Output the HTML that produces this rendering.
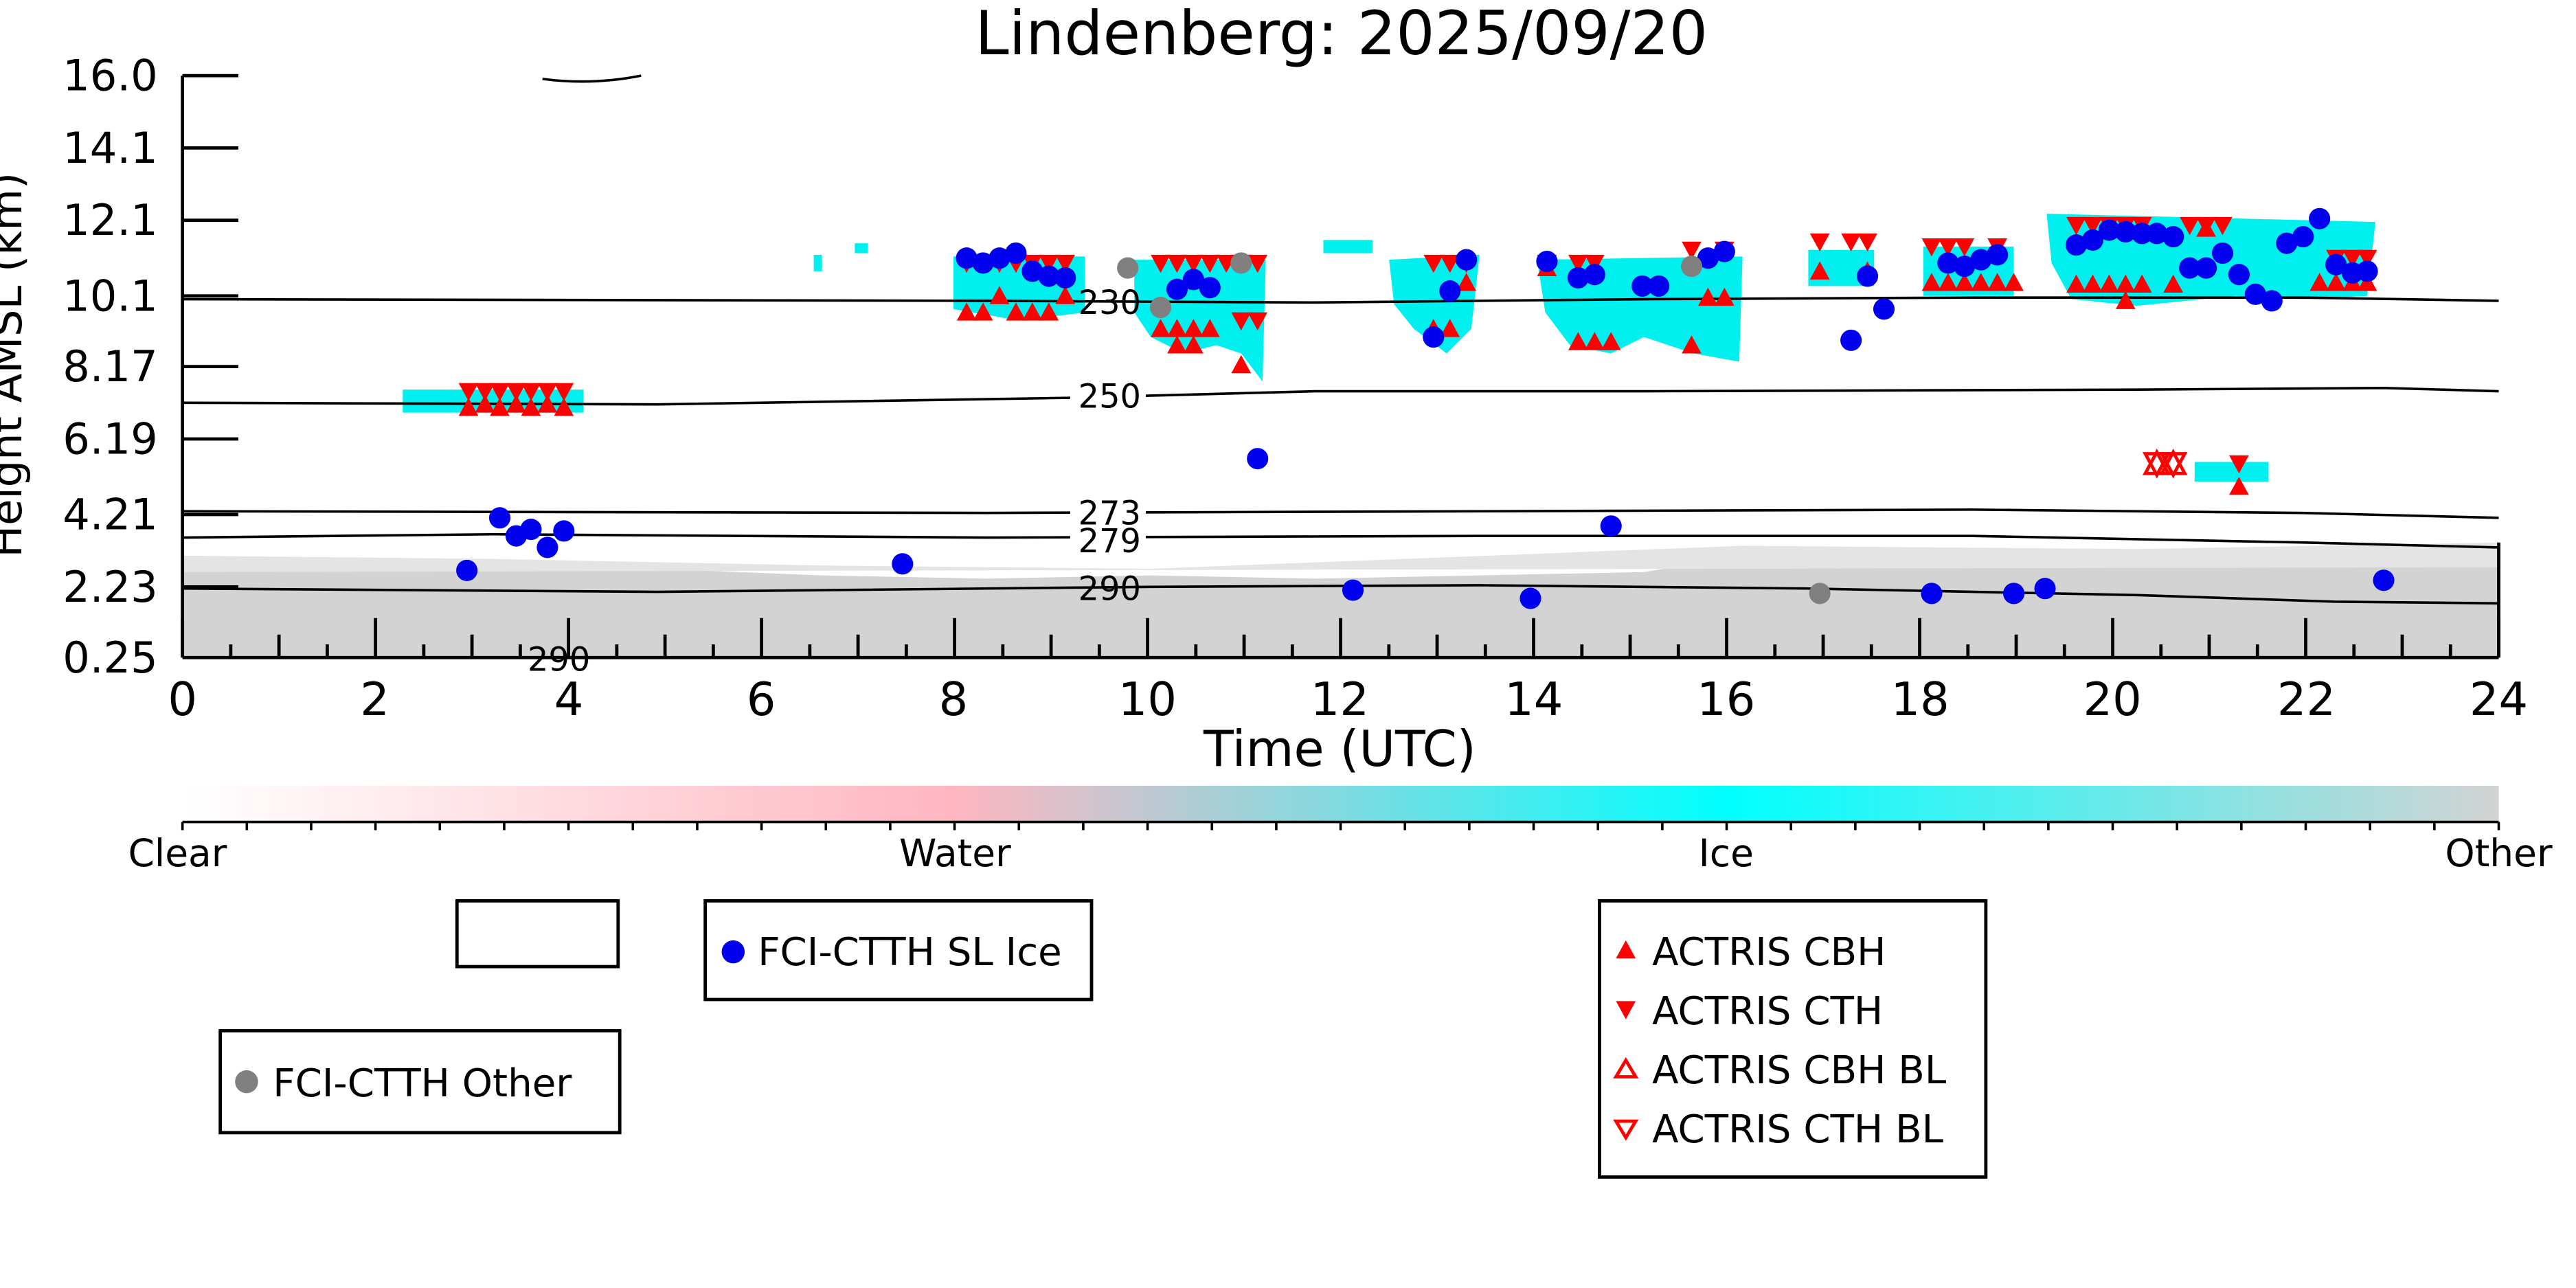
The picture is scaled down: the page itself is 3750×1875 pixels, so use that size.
<!DOCTYPE html>
<html><head><meta charset="utf-8"><style>
html,body{margin:0;padding:0;background:#fff;}
svg{display:block;}
text{font-family:"DejaVu Sans","Liberation Sans",sans-serif;}
</style></head><body>
<svg width="3750" height="1875" viewBox="0 0 1567 783.5" preserveAspectRatio="none" xmlns="http://www.w3.org/2000/svg">
<defs>
<linearGradient id="cb" x1="0" x2="1" y1="0" y2="0">
<stop offset="0" stop-color="#ffffff"/>
<stop offset="0.333" stop-color="#ffb6c1"/>
<stop offset="0.667" stop-color="#00ffff"/>
<stop offset="1" stop-color="#d3d3d3"/>
</linearGradient>
</defs>
<rect width="1570" height="790" fill="#fff"/>
<text x="816" y="33" font-size="37" text-anchor="middle">Lindenberg: 2025/09/20</text>

<path d="M111,345 L200,342 L300,344 L400,346 L500,350 L600,352 L700,350 L800,352 L900,350 L1000,348 L1060,338 L1100,336 L1200,336 L1300,338 L1400,336 L1520,334 L1520,400 L111,400 Z" fill="#d3d3d3"/>
<path d="M111,338 L300,340 L500,344 L700,346 L1060,332 L1300,334 L1520,330 L1520,345 L111,348 Z" fill="#e4e4e4"/>

<g fill="#00f0f0">
<rect x="245" y="237" width="110" height="14"/>
<path d="M580,156 L660,156 L660,190 L620,195 L580,188 Z"/>
<path d="M690,158 L770,158 L768,232 L755,215 L740,210 L720,215 L700,205 L690,190 Z"/>
<path d="M845,158 L900,155 L895,200 L880,215 L860,200 L848,185 Z"/>
<path d="M935,158 L1060,156 L1058,220 L1030,215 L1000,205 L980,215 L955,210 L940,190 Z"/>
<rect x="1100" y="152" width="40" height="22"/>
<rect x="1170" y="150" width="55" height="30"/>
<path d="M1245,130 L1445,135 L1440,180 L1400,182 L1360,180 L1300,186 L1260,182 L1248,160 Z"/>
<rect x="1335" y="281" width="45" height="12"/>
<rect x="495" y="155" width="5" height="10"/><rect x="520" y="148" width="8" height="6"/><rect x="805" y="146" width="30" height="8"/>
</g>

<g fill="none" stroke="#000" stroke-width="1.5">
<path d="M111,182 L600,183 L800,184 L1000,182 L1200,181 L1400,181 L1520,183"/>
<path d="M111,245 L400,246 L650,242 L800,238 L1000,238 L1300,237 L1450,236 L1520,238"/>
<path d="M111,311 L600,312 L900,311 L1200,310 L1400,312 L1520,315"/>
<path d="M111,327 L300,325 L600,327 L900,326 L1200,326 L1400,330 L1520,333"/>
<path d="M111,358 L400,360 L700,357 L900,356 L1100,358 L1300,362 L1420,366 L1520,367"/>
<path d="M330,48 Q360,52 390,46"/>
</g>
<g font-size="20" text-anchor="middle">
<text x="675" y="191">230</text>
<rect x="651" y="231" width="46" height="20" fill="#fff"/><text x="675" y="248">250</text>
<rect x="651" y="302" width="46" height="16" fill="#fff"/><text x="675" y="319">273</text>
<rect x="651" y="320" width="46" height="16" fill="#fff"/><text x="675" y="336">279</text>
<text x="675" y="365">290</text>
<text x="340" y="408">290</text>
</g>

<g stroke="#000" stroke-width="2">
<line x1="111" y1="46" x2="111" y2="400"/>
<line x1="111" y1="400" x2="1520" y2="400"/>
<line x1="1520" y1="330" x2="1520" y2="400"/>
<line x1="111" y1="46" x2="145" y2="46"/><line x1="111" y1="90" x2="145" y2="90"/>
<line x1="111" y1="134" x2="145" y2="134"/><line x1="111" y1="180" x2="145" y2="180"/>
<line x1="111" y1="223" x2="145" y2="223"/><line x1="111" y1="267" x2="145" y2="267"/>
<line x1="111" y1="313" x2="145" y2="313"/><line x1="111" y1="357" x2="145" y2="357"/>
</g>
<g id="xt" stroke="#000" stroke-width="2"></g>
<g font-size="26" text-anchor="end">
<text x="96" y="55">16.0</text><text x="96" y="99">14.1</text><text x="96" y="143">12.1</text>
<text x="96" y="189">10.1</text><text x="96" y="232">8.17</text><text x="96" y="276">6.19</text>
<text x="96" y="322">4.21</text><text x="96" y="366">2.23</text><text x="96" y="409">0.25</text>
</g>
<g font-size="28" text-anchor="middle">
<text x="111" y="435">0</text><text x="228" y="435">2</text><text x="346" y="435">4</text><text x="463" y="435">6</text>
<text x="580" y="435">8</text><text x="698" y="435">10</text><text x="815" y="435">12</text><text x="933" y="435">14</text>
<text x="1050" y="435">16</text><text x="1168" y="435">18</text><text x="1285" y="435">20</text><text x="1403" y="435">22</text><text x="1520" y="435">24</text>
<text x="815" y="466" font-size="30">Time (UTC)</text>
</g>
<text transform="translate(13,222) rotate(-90)" font-size="26" text-anchor="middle">Height AMSL (km)</text>

<g id="mk"></g>

<rect x="111" y="478" width="1409" height="22" fill="url(#cb)"/>
<line x1="111" y1="500" x2="1520" y2="500" stroke="#000" stroke-width="1.5"/>
<g id="ct" stroke="#000" stroke-width="1.5"></g>
<g font-size="23" text-anchor="middle">
<text x="108" y="527">Clear</text><text x="581" y="527">Water</text><text x="1050" y="527">Ice</text><text x="1520" y="527">Other</text>
</g>

<g fill="none" stroke="#000" stroke-width="2">
<rect x="278" y="548" width="98" height="40"/>
<rect x="429" y="548" width="235" height="60"/>
<rect x="134" y="627" width="243" height="62"/>
<rect x="973" y="548" width="235" height="168"/>
</g>
<circle cx="446" cy="579" r="7" fill="#0000ee"/>
<text x="461" y="587" font-size="23.5">FCI-CTTH SL Ice</text>
<circle cx="150" cy="658" r="7" fill="#808080"/>
<text x="166" y="667" font-size="23.5">FCI-CTTH Other</text>
<polygon points="989,572 995,583 983,583" fill="#f00"/><text x="1005" y="587" font-size="23.5">ACTRIS CBH</text>
<polygon points="989,620 995,609 983,609" fill="#f00"/><text x="1005" y="623" font-size="23.5">ACTRIS CTH</text>
<polygon points="989,645 995,655 983,655" fill="none" stroke="#f00" stroke-width="2"/><text x="1005" y="659" font-size="23.5">ACTRIS CBH BL</text>
<polygon points="989,692 995,682 983,682" fill="none" stroke="#f00" stroke-width="2"/><text x="1005" y="695" font-size="23.5">ACTRIS CTH BL</text>
</svg>
<script>
var NS="http://www.w3.org/2000/svg";
function el(p,t,a){var e=document.createElementNS(NS,t);for(var k in a)e.setAttribute(k,a[k]);p.appendChild(e);return e;}
var xt=document.getElementById("xt");
for(var h=0;h<=24;h+=0.5){var x=111+h*1409/24;var L=(h%2==0)?24:(h%1==0?14:8);el(xt,"line",{x1:x,y1:400,x2:x,y2:400-L});}
var ct=document.getElementById("ct");
for(var i=0;i<=36;i++){var x=111+i*1409/36;el(ct,"line",{x1:x,y1:500,x2:x,y2:505});}
var mk=document.getElementById("mk");
function ups(xs,y){xs.forEach(function(x){el(mk,"polygon",{points:x+","+(y-6)+" "+(x+6)+","+(y+5)+" "+(x-6)+","+(y+5),fill:"#f00"});});}
function dns(xs,y){xs.forEach(function(x){el(mk,"polygon",{points:x+","+(y+6)+" "+(x+6)+","+(y-5)+" "+(x-6)+","+(y-5),fill:"#f00"});});}
dns([285,295,304,314,323,333,343],238);ups([285,304,323,343],248);ups([295,314,333],246);
dns([588,608,628,648,598,618,638],160);ups([588,598,618,628,638],190);ups([608,648],180);
dns([706,716,726,736,746,755,765],160);dns([755,765],195);ups([706,716,726,736],200);ups([716,726],210);ups([755],222);
dns([872,882,892],160);ups([872,882],200);ups([892],172);
dns([941,960,970],160);ups([941],163);ups([960,970,980],208);
dns([1029,1049],152);ups([1039,1049],181);ups([1029],210);
dns([1107,1126,1136],147);ups([1107,1136],165);
dns([1175,1185,1195,1215],150);ups([1175,1185,1195,1205,1215,1225],172);
dns([1263,1273,1283,1293,1303,1332,1342,1352],137);ups([1263,1273,1283,1293,1303,1322],173);ups([1342],139);ups([1293],183);
dns([1362],282);ups([1362],296);
dns([1421,1431,1440],157);ups([1411,1421,1431,1440],172);
[[1312,282],[1322,282]].forEach(function(p){var x=p[0],y=p[1];
el(mk,"polygon",{points:x+","+(y-7)+" "+(x+7)+","+(y+6)+" "+(x-7)+","+(y+6),fill:"none",stroke:"#f00","stroke-width":2});
el(mk,"polygon",{points:x+","+(y+7)+" "+(x+7)+","+(y-6)+" "+(x-7)+","+(y-6),fill:"none",stroke:"#f00","stroke-width":2});});
var blue=[[284,347],[304,315],[314,326],[323,322],[333,333],[343,323],[549,343],[588,157],[598,160],[608,157],[618,154],[628,165],[638,168],[648,169],[716,176],[726,170],[736,175],[765,279],[823,359],[872,205],[882,177],[892,158],[931,364],[941,159],[960,169],[970,167],[980,320],[999,174],[1009,174],[1039,157],[1049,153],[1126,207],[1136,168],[1146,188],[1175,361],[1185,160],[1195,162],[1205,158],[1215,155],[1225,361],[1244,358],[1263,149],[1273,146],[1283,140],[1293,141],[1303,142],[1312,142],[1322,144],[1332,163],[1342,163],[1352,154],[1362,167],[1372,179],[1382,183],[1391,148],[1401,144],[1411,133],[1421,161],[1431,166],[1440,165],[1450,353]];
blue.forEach(function(p){el(mk,"circle",{cx:p[0],cy:p[1],r:6.5,fill:"#0000ee"});});
[[686,163],[706,187],[755,160],[1029,162],[1107,361]].forEach(function(p){el(mk,"circle",{cx:p[0],cy:p[1],r:6.5,fill:"#808080"});});
</script>
</body></html>
